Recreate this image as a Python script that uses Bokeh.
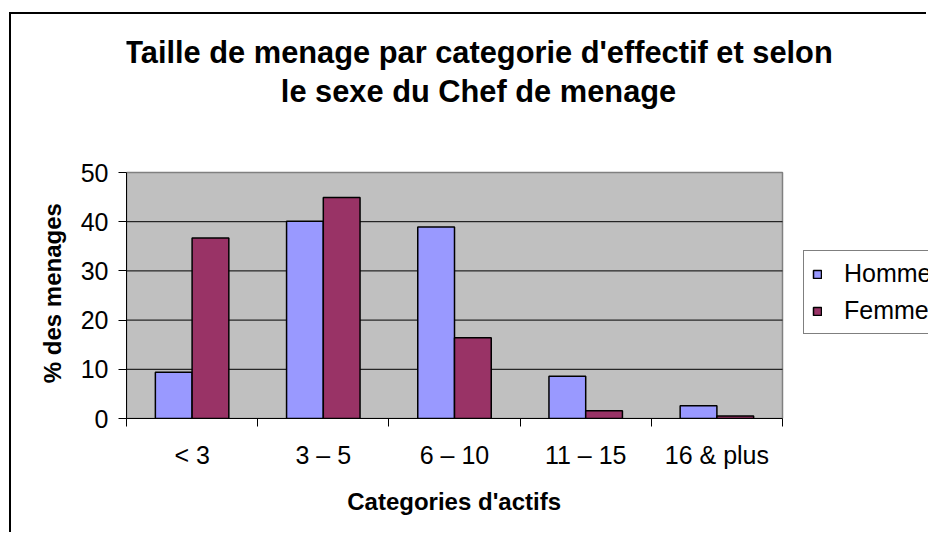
from bokeh.plotting import figure
from bokeh.models import (ColumnDataSource, FixedTicker, Range1d, Legend, LegendItem, Label)
from bokeh.transform import dodge
from bokeh.embed import file_html
from bokeh.resources import INLINE

categories = ["< 3", "3 – 5", "6 – 10", "11 – 15", "16 & plus"]
homme = [9.4, 40.1, 38.9, 8.6, 2.6]
femme = [36.7, 44.9, 16.4, 1.6, 0.5]
y_ticks = [0, 10, 20, 30, 40, 50]
title_lines = ["Taille de menage par categorie d'effectif et selon", "le sexe du Chef de menage"]
x_title = "Categories d'actifs"
y_title = "% des menages"
series_names = ["Homme", "Femme"]

FONT = "Liberation Sans"
NBSP = "\u00a0"
n = len(categories)
idx = list(range(n))
src = ColumnDataSource(dict(x=idx, homme=homme, femme=femme))

# layout constants (pixels)
W, H = 917, 520
LEFT, BOTTOM = 115, 116
CAT_PX = 131.2          # pixel width of one category
PX_PER_UNIT = 4.92      # pixel per y unit
x_lo, x_hi = -0.5, n - 0.5
y_lo, y_hi = y_ticks[0], y_ticks[-1]
x_end = x_lo + (W - LEFT) / CAT_PX
y_end = (H - BOTTOM) / PX_PER_UNIT

p = figure(width=W, height=H, output_backend="svg", toolbar_location=None, title=None,
           x_range=Range1d(x_lo, x_end), y_range=Range1d(y_lo, y_end),
           min_border_left=LEFT, min_border_right=0, min_border_top=0, min_border_bottom=BOTTOM,
           background_fill_color="white", border_fill_color="white",
           outline_line_color=None)
p.styles = {"border-left": "2px solid black", "border-top": "2px solid black",
            "margin-left": "9px", "margin-top": "12px"}

# plot area (grey)
p.quad(left=[x_lo], right=[x_hi], bottom=[y_lo], top=[y_hi],
       fill_color="#C0C0C0", line_color="#808080", line_width=1.5, level="image")

# horizontal grid lines limited to the plot area
grid_y = y_ticks[1:-1]
p.segment(x0=[x_lo] * len(grid_y), x1=[x_hi] * len(grid_y), y0=grid_y, y1=grid_y,
          line_color="black", line_width=1, level="underlay")

w = 0.28
r1 = p.vbar(x=dodge("x", -w / 2), top="homme", width=w, source=src,
            fill_color="#9999FF", line_color="black", line_width=1.5)
r2 = p.vbar(x=dodge("x", w / 2), top="femme", width=w, source=src,
            fill_color="#993366", line_color="black", line_width=1.5)

p.xgrid.visible = False
p.ygrid.visible = False

# x axis
xa = p.xaxis[0]
xa.bounds = (x_lo, x_hi)
xa.ticker = FixedTicker(ticks=idx, minor_ticks=[i - 0.5 for i in idx] + [n - 0.5])
xa.major_label_overrides = {i: c for i, c in zip(idx, categories)}
xa.major_tick_line_color = None
xa.major_tick_out = 0
xa.major_tick_in = 0
xa.minor_tick_out = 8
xa.minor_tick_in = 0
xa.minor_tick_line_color = "black"
xa.axis_line_color = "black"
xa.major_label_text_font = FONT
xa.major_label_text_font_size = "25px"
xa.major_label_text_color = "black"
xa.major_label_standoff = 14
# trailing no-break spaces shift the centred label over the grey plot area
xa.axis_label = x_title + NBSP * 22
xa.axis_label_text_font = FONT
xa.axis_label_text_font_size = "24px"
xa.axis_label_text_font_style = "bold"
xa.axis_label_text_color = "black"
xa.axis_label_standoff = 16

# y axis
ya = p.yaxis[0]
ya.bounds = (y_lo, y_hi)
ya.ticker = FixedTicker(ticks=y_ticks)
ya.major_tick_out = 8
ya.major_tick_in = 0
ya.minor_tick_line_color = None
ya.major_tick_line_color = "black"
ya.axis_line_color = "black"
ya.major_label_text_font = FONT
ya.major_label_text_font_size = "25px"
ya.major_label_text_color = "black"
ya.major_label_standoff = 10
ya.axis_label = y_title + NBSP * 23
ya.axis_label_text_font = FONT
ya.axis_label_text_font_size = "24px"
ya.axis_label_text_font_style = "bold"
ya.axis_label_text_color = "black"
ya.axis_label_standoff = 12

# title (two lines), placed in the white area above the plot area
for txt, yy in zip(title_lines, [74.4, 66.5]):
    p.add_layout(Label(x=2.183, y=yy, text=txt, text_align="center", text_baseline="alphabetic",
                       text_font=FONT, text_font_size="30.8px", text_font_style="bold",
                       text_color="black"))

legend = Legend(items=[LegendItem(label=series_names[0], renderers=[r1]),
                       LegendItem(label=series_names[1], renderers=[r2])],
                location=(677, 84), orientation="vertical",
                border_line_color="black", border_line_width=1,
                background_fill_color="white", background_fill_alpha=1,
                glyph_width=10, glyph_height=10, label_standoff=22,
                label_height=26, spacing=8, padding=8, margin=0,
                label_text_font=FONT, label_text_font_size="25px", label_text_color="black")
p.add_layout(legend, "center")

open("out.html", "w").write(file_html(p, INLINE))
